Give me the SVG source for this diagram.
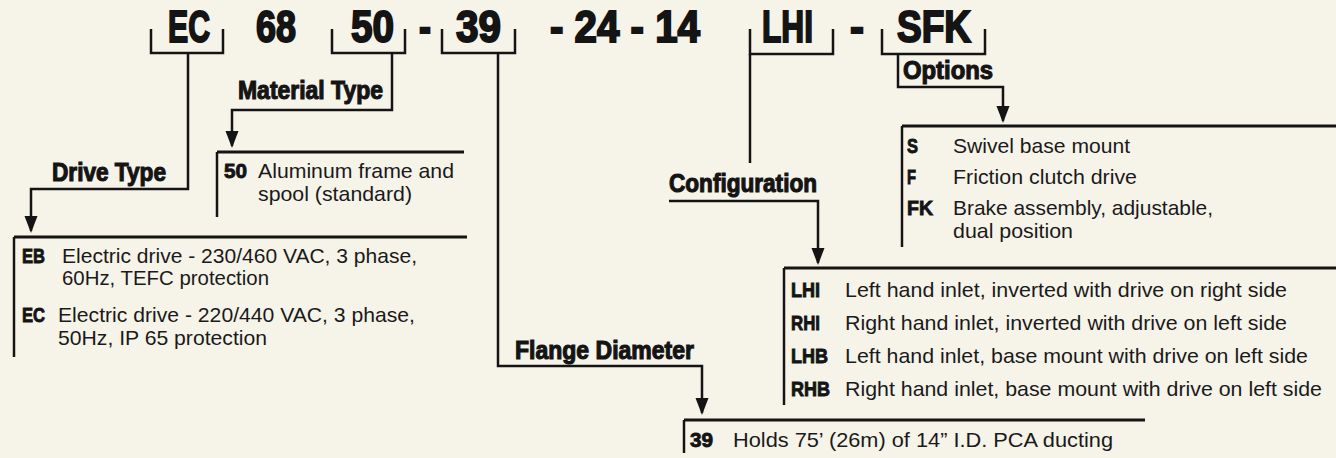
<svg xmlns="http://www.w3.org/2000/svg" width="1336" height="458" viewBox="0 0 1336 458">
<style>
.code{font-family:"Liberation Sans",Arial,sans-serif;font-weight:bold;font-size:45px;fill:#141414;stroke:#141414;stroke-width:2px}
.lbl{font-family:"Liberation Sans",Arial,sans-serif;font-weight:bold;font-size:25px;fill:#141414;stroke:#141414;stroke-width:1.1px}
.key{font-family:"Liberation Sans",Arial,sans-serif;font-weight:bold;font-size:21px;fill:#141414;stroke:#141414;stroke-width:0.9px}
.txt{font-family:"Liberation Sans",Arial,sans-serif;font-size:21px;fill:#1a1a1a}
.ln{fill:none;stroke:#141414;stroke-width:2.5}
.top{fill:none;stroke:#141414;stroke-width:3}
</style>
<defs>
<marker id="arr" markerUnits="userSpaceOnUse" markerWidth="18" markerHeight="14" refX="15" refY="6.5" orient="auto">
<path d="M0,0 L17,6.5 L0,13 z" fill="#141414"/>
</marker>
</defs>
<rect width="1336" height="458" fill="#f6f3e9"/>
<g id="code">
<text class="code" x="168" y="42" textLength="42" lengthAdjust="spacingAndGlyphs">EC</text>
<text class="code" x="256" y="42" textLength="40" lengthAdjust="spacingAndGlyphs">68</text>
<text class="code" x="351" y="42" textLength="43" lengthAdjust="spacingAndGlyphs">50</text>
<text class="code" x="419" y="42" textLength="12" lengthAdjust="spacingAndGlyphs">-</text>
<text class="code" x="456" y="42" textLength="45" lengthAdjust="spacingAndGlyphs">39</text>
<text class="code" x="550" y="42" textLength="150" lengthAdjust="spacingAndGlyphs">- 24 - 14</text>
<text class="code" x="762" y="42" textLength="51" lengthAdjust="spacingAndGlyphs">LHI</text>
<text class="code" x="850" y="42" textLength="14" lengthAdjust="spacingAndGlyphs">-</text>
<text class="code" x="897" y="42" textLength="74" lengthAdjust="spacingAndGlyphs">SFK</text>
</g>
<g id="brackets">
<path class="ln" d="M151,29 V53 H223 V29"/>
<path class="ln" d="M332,29 V53 H405 V29"/>
<path class="ln" d="M442,29 V53 H515 V29"/>
<path class="ln" d="M750,29 V54 H833 V29"/>
<path class="ln" d="M882,29 V54 H985 V29"/>
</g>
<g id="connectors">
<path class="ln" d="M188,53 V189 H31 V231" marker-end="url(#arr)"/>
<path class="ln" d="M392,53 V110 H232 V146" marker-end="url(#arr)"/>
<path class="ln" d="M498,53 V366 H702 V413" marker-end="url(#arr)"/>
<path class="ln" d="M750,54 V163"/>
<path class="ln" d="M669,201 H818 V263" marker-end="url(#arr)"/>
<path class="ln" d="M898,54 V87 H1003 V121" marker-end="url(#arr)"/>
</g>
<g id="label-material">
<text class="lbl" x="238" y="99" textLength="145" lengthAdjust="spacingAndGlyphs">Material Type</text>
</g>
<g id="label-drive">
<text class="lbl" x="52" y="181" textLength="114" lengthAdjust="spacingAndGlyphs">Drive Type</text>
</g>
<g id="label-config">
<text class="lbl" x="669" y="192" textLength="148" lengthAdjust="spacingAndGlyphs">Configuration</text>
</g>
<g id="label-flange">
<text class="lbl" x="515" y="359" textLength="179" lengthAdjust="spacingAndGlyphs">Flange Diameter</text>
</g>
<g id="label-options">
<text class="lbl" x="903" y="79" textLength="90" lengthAdjust="spacingAndGlyphs">Options</text>
</g>
<g id="block-material">
<path class="top" d="M217,152 H464"/>
<path class="ln" d="M217,152 V217"/>
<text class="key" x="224" y="178" textLength="23" lengthAdjust="spacingAndGlyphs">50</text>
<text class="txt" x="258" y="178" textLength="196" lengthAdjust="spacingAndGlyphs">Aluminum frame and</text>
<text class="txt" x="258" y="201" textLength="154" lengthAdjust="spacingAndGlyphs">spool (standard)</text>
</g>
<g id="block-drive">
<path class="top" d="M14,237 H467"/>
<path class="ln" d="M14,237 V357"/>
<text class="key" x="22" y="263" textLength="23" lengthAdjust="spacingAndGlyphs">EB</text>
<text class="txt" x="62" y="263" textLength="355" lengthAdjust="spacingAndGlyphs">Electric drive - 230/460 VAC, 3 phase,</text>
<text class="txt" x="62" y="285" textLength="207" lengthAdjust="spacingAndGlyphs">60Hz, TEFC protection</text>
<text class="key" x="22" y="322" textLength="23" lengthAdjust="spacingAndGlyphs">EC</text>
<text class="txt" x="58" y="322" textLength="357" lengthAdjust="spacingAndGlyphs">Electric drive - 220/440 VAC, 3 phase,</text>
<text class="txt" x="58" y="345" textLength="209" lengthAdjust="spacingAndGlyphs">50Hz, IP 65 protection</text>
</g>
<g id="block-options">
<path class="top" d="M902,126 H1336"/>
<path class="ln" d="M902,126 V247"/>
<text class="key" x="907" y="153" textLength="11" lengthAdjust="spacingAndGlyphs">S</text>
<text class="txt" x="953" y="153" textLength="177" lengthAdjust="spacingAndGlyphs">Swivel base mount</text>
<text class="key" x="907" y="184" textLength="9" lengthAdjust="spacingAndGlyphs">F</text>
<text class="txt" x="953" y="184" textLength="184" lengthAdjust="spacingAndGlyphs">Friction clutch drive</text>
<text class="key" x="907" y="215" textLength="26" lengthAdjust="spacingAndGlyphs">FK</text>
<text class="txt" x="953" y="215" textLength="260" lengthAdjust="spacingAndGlyphs">Brake assembly, adjustable,</text>
<text class="txt" x="953" y="238" textLength="120" lengthAdjust="spacingAndGlyphs">dual position</text>
</g>
<g id="block-config">
<path class="top" d="M784,268 H1336"/>
<path class="ln" d="M784,268 V405"/>
<text class="key" x="791" y="297" textLength="29" lengthAdjust="spacingAndGlyphs">LHI</text>
<text class="txt" x="845" y="297" textLength="442" lengthAdjust="spacingAndGlyphs">Left hand inlet, inverted with drive on right side</text>
<text class="key" x="791" y="330" textLength="29" lengthAdjust="spacingAndGlyphs">RHI</text>
<text class="txt" x="845" y="330" textLength="442" lengthAdjust="spacingAndGlyphs">Right hand inlet, inverted with drive on left side</text>
<text class="key" x="791" y="363" textLength="37" lengthAdjust="spacingAndGlyphs">LHB</text>
<text class="txt" x="845" y="363" textLength="463" lengthAdjust="spacingAndGlyphs">Left hand inlet, base mount with drive on left side</text>
<text class="key" x="791" y="396" textLength="39" lengthAdjust="spacingAndGlyphs">RHB</text>
<text class="txt" x="845" y="396" textLength="477" lengthAdjust="spacingAndGlyphs">Right hand inlet, base mount with drive on left side</text>
</g>
<g id="block-flange">
<path class="top" d="M684,420 H1145"/>
<path class="ln" d="M684,420 V453"/>
<text class="key" x="690" y="447" textLength="23" lengthAdjust="spacingAndGlyphs">39</text>
<text class="txt" x="733" y="447" textLength="380" lengthAdjust="spacingAndGlyphs">Holds 75’ (26m) of 14” I.D. PCA ducting</text>
</g>
</svg>
